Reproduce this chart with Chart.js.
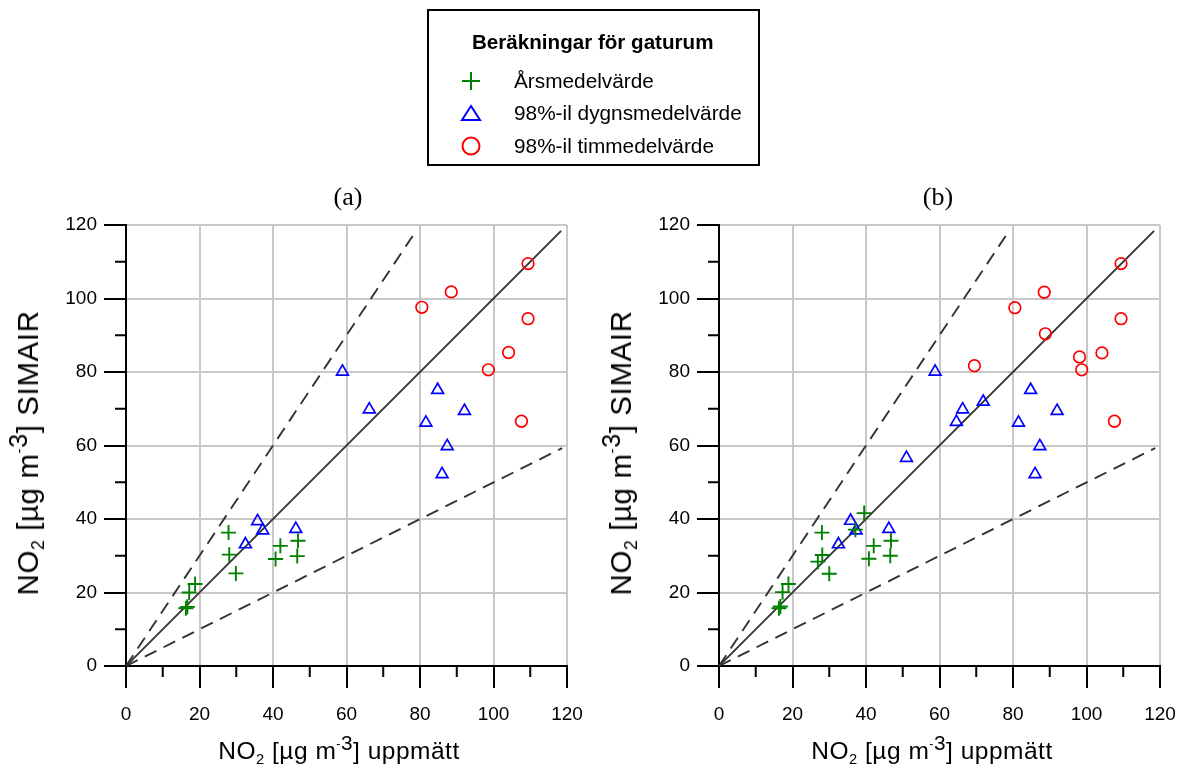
<!DOCTYPE html>
<html>
<head>
<meta charset="utf-8">
<script src="https://cdn.jsdelivr.net/npm/chart.js@4"></script>
<style>
  body { margin: 0; width: 1185px; height: 773px; overflow: hidden; background: #fff; font-family: "Liberation Sans", Arial, sans-serif; }
  canvas { position: absolute; top: 0; }
  .panel-title { position: absolute; font-family: "Liberation Serif", "Times New Roman", serif; font-size: 26px; transform: translate(-50%, -50%); }
  .axis-title { position: absolute; font-size: 24.5px; letter-spacing: 0.5px; white-space: nowrap; transform: translate(-50%, -50%); }
  .axis-title.y { font-size: 29.5px; letter-spacing: 0.6px; transform: translate(-50%, -50%) rotate(-90deg); }
  .axis-title sub { font-size: 60%; vertical-align: -0.35em; line-height: 0; }
  .axis-title sup { font-size: 85%; vertical-align: 0.45em; line-height: 0; }
  .axis-title sup small { font-size: 60%; vertical-align: 0.2em; }
  #legend { position: absolute; left: 427px; top: 9px; width: 333px; height: 157px; border: 2px solid #000; box-sizing: border-box; }
  #legend .title { position: absolute; left: 43px; top: 19px; font-weight: bold; font-size: 20.6px; }
  #legend .item { position: absolute; left: 85px; font-size: 20.8px; transform: translateY(-50%); white-space: nowrap; }
  #legend svg { position: absolute; left: 31px; }
</style>
</head>
<body>
<canvas id="chart-a" width="592" height="773" style="left:0px"></canvas>
<canvas id="chart-b" width="592" height="773" style="left:593px"></canvas>

<div class="panel-title" style="left:348px; top:197px">(a)</div>
<div class="panel-title" style="left:938px; top:197px">(b)</div>

<div class="axis-title" style="left:339px; top:751px">NO<sub>2</sub> [µg m<sup><small>-</small>3</sup>] uppmätt</div>
<div class="axis-title" style="left:932px; top:751px">NO<sub>2</sub> [µg m<sup><small>-</small>3</sup>] uppmätt</div>
<div class="axis-title y" style="left:28px; top:453px">NO<sub>2</sub> [µg m<sup><small>-</small>3</sup>] SIMAIR</div>
<div class="axis-title y" style="left:621px; top:453px">NO<sub>2</sub> [µg m<sup><small>-</small>3</sup>] SIMAIR</div>

<div id="legend">
  <div class="title">Beräkningar för gaturum</div>
  <svg width="22" height="22" style="top:59px"><path d="M11 2 V20 M2 11 H20" stroke="#008000" stroke-width="2" fill="none"/></svg>
  <div class="item" style="top:70px">Årsmedelvärde</div>
  <svg width="22" height="22" style="top:91px"><path d="M11 4 L20 18 L2 18 Z" stroke="#0000ff" stroke-width="2" fill="none"/></svg>
  <div class="item" style="top:102px">98%-il dygnsmedelvärde</div>
  <svg width="22" height="22" style="top:124px"><circle cx="11" cy="11" r="8.5" stroke="#ff0000" stroke-width="2" fill="none"/></svg>
  <div class="item" style="top:135px">98%-il timmedelvärde</div>
</div>

<script>
// axlar
const axisMax = 120;
const minorTickValues = [10, 30, 50, 70, 90, 110];

// referenslinjer (1:1, 1.5:1, 0.5:1)
const lineOneToOneX = [0, 118.4];
const lineOneToOneY = [0, 118.4];
const lineUpperX = [0, 78];
const lineUpperY = [0, 117];
const lineLowerX = [0, 118.7];
const lineLowerY = [0, 59.3];

// (a) årsmedelvärde
const crossAX = [27.9, 28.1, 29.9, 42.0, 40.7, 46.8, 46.6, 18.8, 17.2, 16.7, 16.3];
const crossAY = [36.3, 30.3, 25.2, 32.7, 29.1, 34.1, 29.9, 22.3, 20.0, 16.1, 15.7];
// (a) 98%-il dygnsmedelvärde
const triAX = [58.9, 66.2, 84.8, 92.1, 81.6, 87.4, 86.0, 35.8, 37.2, 46.2, 32.5];
const triAY = [80.1, 69.8, 75.1, 69.4, 66.2, 59.8, 52.2, 39.4, 36.9, 37.3, 33.1];
// (a) 98%-il timmedelvärde
const circAX = [109.4, 88.5, 80.5, 109.4, 104.1, 98.6, 107.6];
const circAY = [109.5, 101.8, 97.6, 94.5, 85.3, 80.6, 66.6];

// (b) årsmedelvärde
const crossBX = [39.5, 37.1, 28.0, 28.1, 26.9, 30.0, 42.1, 40.8, 46.8, 46.6, 18.9, 17.3, 16.7, 16.3];
const crossBY = [41.6, 37.1, 36.3, 30.2, 28.4, 25.1, 32.7, 29.2, 34.1, 30.0, 22.3, 20.1, 16.2, 15.7];
// (b) 98%-il dygnsmedelvärde
const triBX = [58.8, 66.3, 71.9, 64.6, 84.8, 92.0, 81.5, 87.3, 86.0, 51.0, 35.8, 37.3, 46.2, 32.5];
const triBY = [80.1, 69.8, 71.9, 66.4, 75.1, 69.4, 66.2, 59.8, 52.2, 56.6, 39.5, 36.9, 37.3, 33.1];
// (b) 98%-il timmedelvärde
const circBX = [109.4, 88.5, 80.5, 109.4, 88.8, 98.1, 104.2, 98.7, 69.5, 107.6];
const circBY = [109.5, 101.7, 97.5, 94.5, 90.4, 84.1, 85.2, 80.6, 81.7, 66.6];

function toPoints(xs, ys) {
    return xs.map((x, i) => ({ x: x, y: ys[i] }));
}

// korta mellanliggande tickmarkeringar
const minorTicks = {
    id: 'minorTicks',
    afterDraw(chart) {
        const ctx = chart.ctx;
        const area = chart.chartArea;
        ctx.save();
        ctx.strokeStyle = '#000';
        ctx.lineWidth = 2;
        minorTickValues.forEach(v => {
            const px = chart.scales.x.getPixelForValue(v);
            const py = chart.scales.y.getPixelForValue(v);
            ctx.beginPath();
            ctx.moveTo(px, area.bottom);
            ctx.lineTo(px, area.bottom + 11);
            ctx.moveTo(area.left - 11, py);
            ctx.lineTo(area.left, py);
            ctx.stroke();
        });
        ctx.restore();
    }
};

function refLine(xs, ys, dash) {
    return {
        type: 'line',
        data: toPoints(xs, ys),
        borderColor: '#333',
        borderWidth: 1.9,
        borderDash: dash,
        pointRadius: 0,
        showLine: true,
        fill: false,
        order: 2
    };
}

function axis(isX) {
    return {
        type: 'linear',
        min: 0,
        max: axisMax,
        afterFit: scale => {
            // fasta mått så att ritytan hamnar som i originalet
            if (isX) {
                scale.height = 107;
                scale.paddingLeft = 0;
                scale.paddingRight = 0;
            } else {
                scale.width = 126;
                scale.paddingTop = 0;
                scale.paddingBottom = 0;
            }
        },
        ticks: {
            stepSize: 20,
            color: '#000',
            padding: isX ? 15 : 7,
            font: { family: 'Liberation Sans', size: 19 }
        },
        grid: {
            color: c => (c.tick && c.tick.value === 0) ? 'rgba(0,0,0,0)' : '#c8c8c8',
            lineWidth: 2,
            tickColor: '#000',
            tickWidth: 2,
            tickLength: 22
        },
        border: { color: '#000', width: 2 }
    };
}

function renderChart(canvasId, cx, cy, tx, ty, ox, oy) {
    const ctx = document.getElementById(canvasId).getContext('2d');
    new Chart(ctx, {
        type: 'scatter',
        data: {
            datasets: [
                refLine(lineOneToOneX, lineOneToOneY, []),
                refLine(lineUpperX, lineUpperY, [13, 8]),
                refLine(lineLowerX, lineLowerY, [13, 8]),
                {
                    label: 'Årsmedelvärde',
                    data: toPoints(cx, cy),
                    pointStyle: 'cross',
                    pointRadius: 7.5,
                    borderColor: '#008000',
                    borderWidth: 1.9,
                    order: 1
                },
                {
                    label: '98%-il dygnsmedelvärde',
                    data: toPoints(tx, ty),
                    pointStyle: 'triangle',
                    pointRadius: 6.8,
                    borderColor: '#0000ff',
                    backgroundColor: 'rgba(0,0,0,0)',
                    borderWidth: 1.7,
                    order: 1
                },
                {
                    label: '98%-il timmedelvärde',
                    data: toPoints(ox, oy),
                    pointStyle: 'circle',
                    pointRadius: 5.8,
                    borderColor: '#ff0000',
                    backgroundColor: 'rgba(0,0,0,0)',
                    borderWidth: 1.7,
                    order: 1
                }
            ]
        },
        options: {
            responsive: false,
            animation: false,
            layout: { padding: { top: 225, right: 25, left: 0, bottom: 0 } },
            plugins: { legend: { display: false }, tooltip: { enabled: false } },
            scales: { x: axis(true), y: axis(false) }
        },
        plugins: [minorTicks]
    });
}

renderChart('chart-a', crossAX, crossAY, triAX, triAY, circAX, circAY);
renderChart('chart-b', crossBX, crossBY, triBX, triBY, circBX, circBY);
</script>
</body>
</html>
